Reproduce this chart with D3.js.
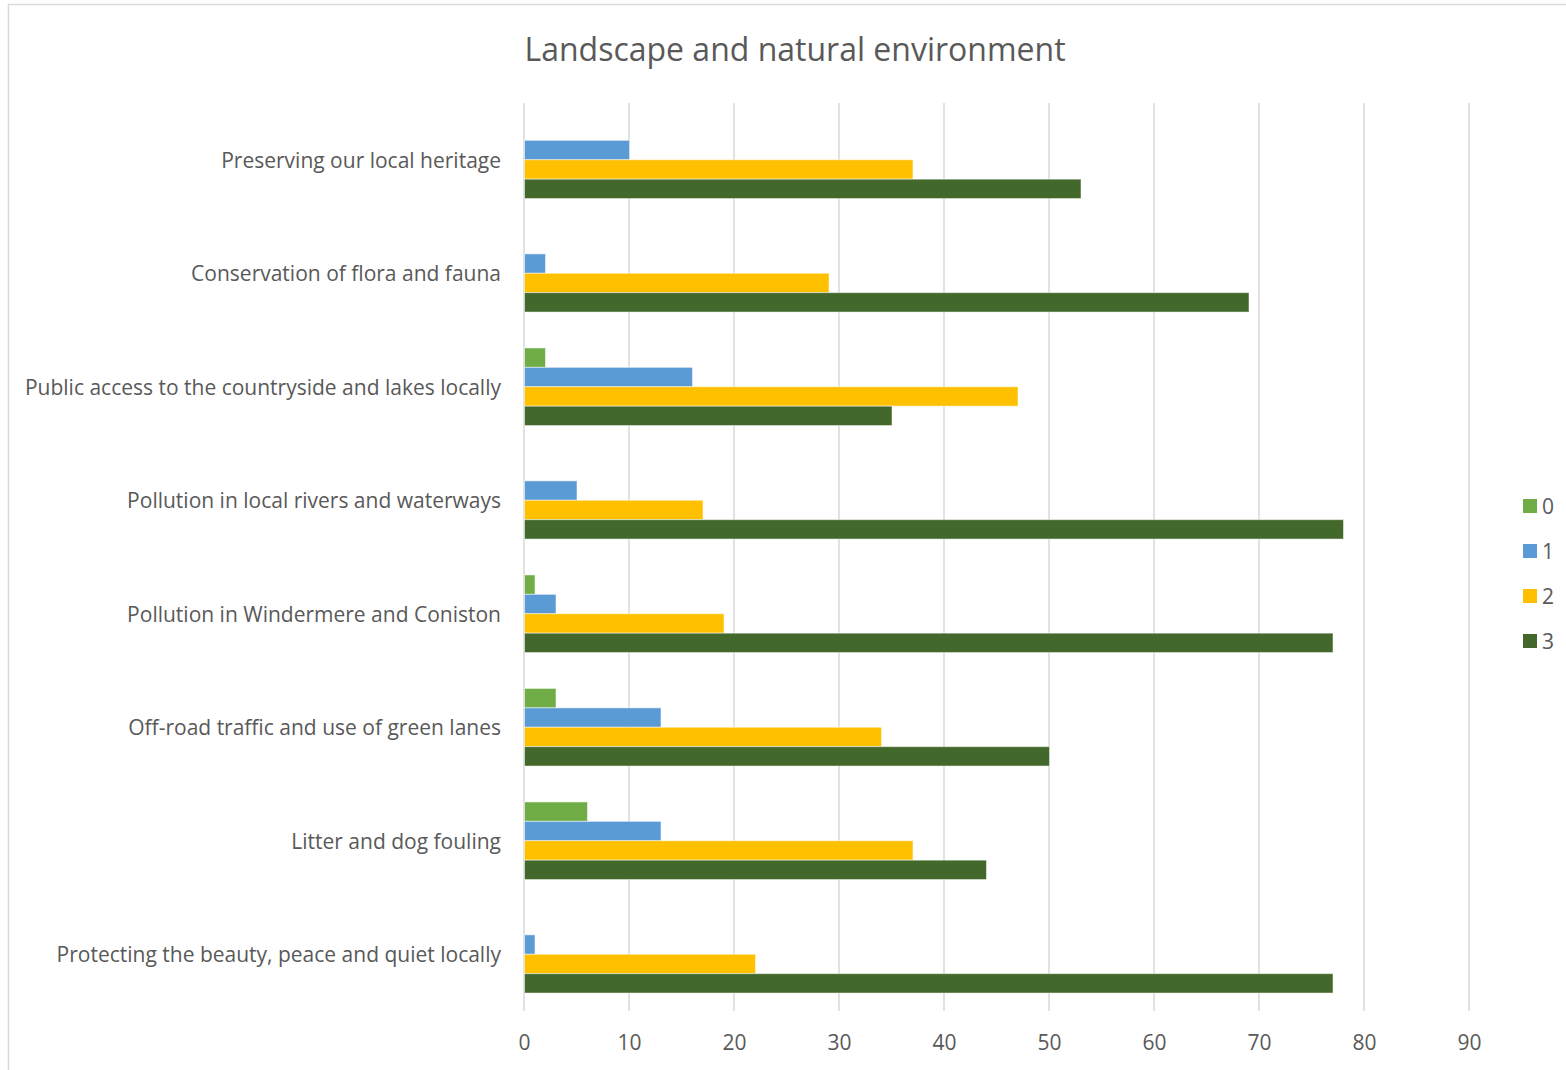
<!DOCTYPE html>
<html>
<head>
<meta charset="utf-8">
<script src="https://cdn.jsdelivr.net/npm/d3@7"></script>
<style>
  html, body { margin: 0; padding: 0; background: #fff; }
  svg { display: block; }
  text { font-family: "Open Sans", sans-serif; fill: #595959; }
</style>
</head>
<body>
<svg id="chart" width="1566" height="1070"></svg>
<script>
const title = "Landscape and natural environment";
const categories = [
  "Preserving our local heritage",
  "Conservation of flora and fauna",
  "Public access to the countryside and lakes locally",
  "Pollution in local rivers and waterways",
  "Pollution in Windermere and Coniston",
  "Off-road traffic and use of green lanes",
  "Litter and dog fouling",
  "Protecting the beauty, peace and quiet locally"
];
const seriesNames = ["0", "1", "2", "3"];
const series0 = [0, 0, 2, 0, 1, 3, 6, 0];
const series1 = [10, 2, 16, 5, 3, 13, 13, 1];
const series2 = [37, 29, 47, 17, 19, 34, 37, 22];
const series3 = [53, 69, 35, 78, 77, 50, 44, 77];
const seriesColors = ["#70AD47", "#5B9BD5", "#FFC000", "#43682B"];
const xTicks = [0, 10, 20, 30, 40, 50, 60, 70, 80, 90];

const allSeries = [series0, series1, series2, series3];
const svg = d3.select("#chart");

svg.append("rect")
  .attr("x", 8.5).attr("y", 4.5)
  .attr("width", 1600).attr("height", 1100)
  .attr("fill", "#fff").attr("stroke", "#d9d9d9").attr("stroke-width", 1.5);

const x = d3.scaleLinear().domain([0, 90]).range([524, 1469]);
const y = d3.scaleBand().domain(categories).range([103, 1011]).padding(0);
const yInner = d3.scaleBand().domain(seriesNames).range([0, y.bandwidth()])
  .paddingInner(0).paddingOuter(0.925);

svg.append("g").selectAll("line").data(xTicks).join("line")
  .attr("x1", d => x(d)).attr("x2", d => x(d))
  .attr("y1", 103).attr("y2", 1011)
  .attr("stroke", "#d9d9d9").attr("stroke-width", 1.5);

const groups = svg.append("g").selectAll("g").data(categories).join("g")
  .attr("transform", d => `translate(0,${y(d)})`);
groups.selectAll("rect")
  .data((c, i) => seriesNames.map((s, j) => ({ s, v: allSeries[j][i], j })))
  .join("rect")
  .filter(d => d.v > 0)
  .attr("x", x(0) + 0.5)
  .attr("y", d => yInner(d.s))
  .attr("width", d => x(d.v) - x(0))
  .attr("height", yInner.bandwidth())
  .attr("fill", d => seriesColors[d.j])
  .attr("stroke", "#ffffff").attr("stroke-opacity", 0.5).attr("stroke-width", 1);

svg.append("g").selectAll("text").data(categories).join("text")
  .attr("x", 501)
  .attr("y", d => y(d) + y.bandwidth() / 2)
  .attr("text-anchor", "end")
  .attr("dominant-baseline", "central")
  .attr("font-size", 21)
  .text(d => d);

const xAxis = d3.axisBottom(x).tickValues(xTicks).tickSize(0).tickPadding(0);
const ax = svg.append("g").attr("transform", "translate(0,1042)").call(xAxis);
ax.select(".domain").remove();
ax.selectAll("text")
  .attr("dy", null).attr("y", 0)
  .attr("dominant-baseline", "central")
  .attr("font-size", 21)
  .attr("font-family", "'Open Sans', sans-serif")
  .attr("fill", "#595959");

svg.append("text")
  .attr("x", 795).attr("y", 48)
  .attr("text-anchor", "middle")
  .attr("dominant-baseline", "central")
  .attr("font-size", 32)
  .text(title);

const ly = d3.scalePoint().domain(seriesNames).range([506, 641]);
const leg = svg.append("g").selectAll("g").data(seriesNames).join("g")
  .attr("transform", d => `translate(1523,${ly(d)})`);
leg.append("rect")
  .attr("x", 0).attr("y", -7).attr("width", 14).attr("height", 14)
  .attr("fill", (d, i) => seriesColors[i]);
leg.append("text")
  .attr("x", 19).attr("y", 0)
  .attr("dominant-baseline", "central")
  .attr("font-size", 21)
  .text(d => d);
</script>
</body>
</html>
